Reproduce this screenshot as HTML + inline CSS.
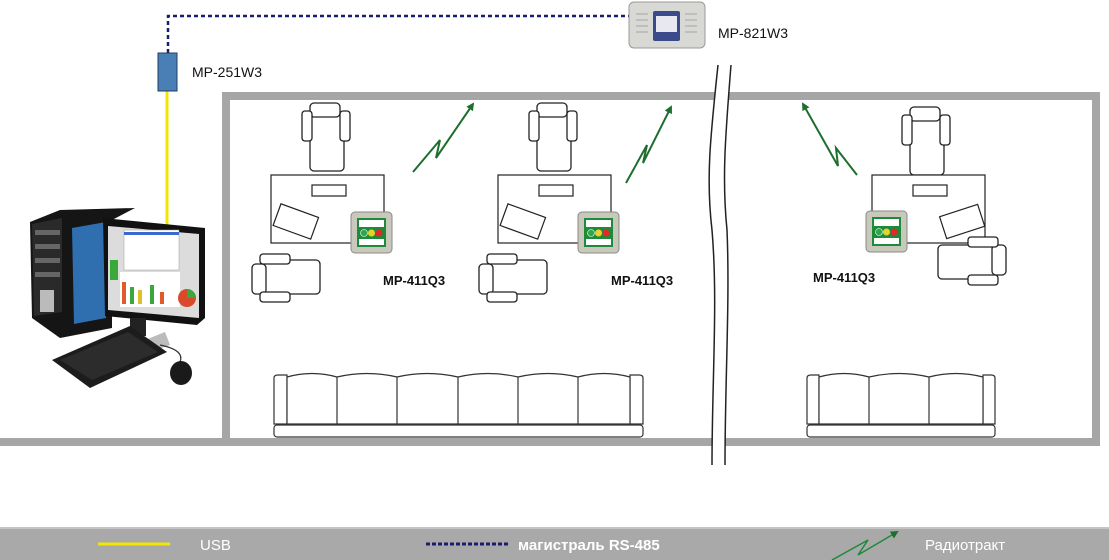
<!DOCTYPE html>
<html><head><meta charset="utf-8"><style>
html,body{margin:0;padding:0;background:#fff;width:1109px;height:560px;overflow:hidden}
svg{display:block}
</style></head><body>
<svg width="1109" height="560" viewBox="0 0 1109 560" xmlns="http://www.w3.org/2000/svg" font-family="Liberation Sans, sans-serif">
<defs>
<g id="chair" fill="#fff" stroke="#222" stroke-width="1.3">
  <path d="M0,0 h30 a4,4 0 0 1 4,4 v50 a4,4 0 0 1 -4,4 h-26 a4,4 0 0 1 -4,-4 z" transform="translate(-2,0)"/>
  <rect x="-2" y="-10" width="30" height="14" rx="4"/>
  <rect x="-10" y="-2" width="10" height="30" rx="3"/>
  <rect x="28" y="-2" width="10" height="30" rx="3"/>
</g>
<g id="panel">
  <rect x="0" y="0" width="41" height="41" rx="4" fill="#c9c8bd" stroke="#8a8a80"/>
  <rect x="6" y="6" width="29" height="29" fill="#1e8a3a"/>
  <rect x="8" y="8" width="25" height="7" fill="#fff"/>
  <rect x="8" y="27" width="25" height="6" fill="#fff"/>
  <circle cx="13" cy="21" r="3.5" fill="#2aa84a" stroke="#fff" stroke-width=".6"/>
  <circle cx="20.5" cy="21" r="3.5" fill="#e6d22a"/>
  <circle cx="28" cy="21" r="3.5" fill="#e02a2a"/>
</g>
<g id="desk" fill="#fff" stroke="#222" stroke-width="1.2">
  <rect x="0" y="0" width="113" height="68"/>
  <rect x="41" y="10" width="34" height="11"/>
</g>
<marker id="ah" markerWidth="8" markerHeight="8" refX="6" refY="4" orient="auto" markerUnits="userSpaceOnUse"><path d="M0,0 L8,4 L0,8 z" fill="#1e6e2e"/></marker>
</defs>

<!-- walls -->
<rect x="222" y="92" width="878" height="8" fill="#a6a6a6"/>
<rect x="222" y="92" width="8" height="354" fill="#a6a6a6"/>
<rect x="1092" y="92" width="8" height="354" fill="#a6a6a6"/>
<rect x="0" y="438" width="1100" height="8" fill="#a6a6a6"/>

<!-- break -->
<path d="M718,65 C710,140 706,180 712,230 C718,300 712,380 712,465 L725,465 C725,380 730,300 727,230 C722,180 725,140 731,65 Z" fill="#fff"/>
<path d="M718,65 C710,140 706,180 712,230 C718,300 712,380 712,465" fill="none" stroke="#222" stroke-width="1.5"/>
<path d="M731,65 C725,140 722,180 727,230 C730,300 725,380 725,465" fill="none" stroke="#222" stroke-width="1.5"/>

<!-- cables -->
<line x1="167" y1="91" x2="167" y2="225" stroke="#f2e600" stroke-width="3"/>
<path d="M168,53 V16 H630" fill="none" stroke="#1c1c6e" stroke-width="2.5" stroke-dasharray="4,3"/>
<rect x="158" y="53" width="19" height="38" fill="#4a7fb5" stroke="#1f3f60"/>
<text x="192" y="77" font-size="14" fill="#111">MP-251W3</text>

<!-- MP-821W3 -->
<rect x="629" y="2" width="76" height="46" rx="5" fill="#d8d8d4" stroke="#9a9a96"/>
<rect x="653" y="11" width="27" height="30" rx="2" fill="#3a4a8a"/>
<rect x="656" y="16" width="21" height="16" fill="#e8e8f0"/>
<g stroke="#999" stroke-width=".8"><line x1="636" y1="14" x2="648" y2="14"/><line x1="636" y1="20" x2="648" y2="20"/><line x1="636" y1="26" x2="648" y2="26"/><line x1="636" y1="32" x2="648" y2="32"/><line x1="685" y1="14" x2="697" y2="14"/><line x1="685" y1="20" x2="697" y2="20"/><line x1="685" y1="26" x2="697" y2="26"/><line x1="685" y1="32" x2="697" y2="32"/></g>
<text x="718" y="38" font-size="14" fill="#111">MP-821W3</text>

<!-- computer -->
<path d="M30,222 L60,210 L135,208 L112,220 L112,328 L60,338 L32,318 Z" fill="#151515"/>
<path d="M32,224 L62,218 L62,312 L34,316 Z" fill="#2a2a2a"/>
<rect x="35" y="230" width="25" height="5" fill="#666"/><rect x="35" y="244" width="25" height="5" fill="#666"/><rect x="35" y="258" width="25" height="5" fill="#666"/><rect x="35" y="272" width="25" height="5" fill="#666"/>
<rect x="40" y="290" width="14" height="22" fill="#bbb"/>
<path d="M72,228 L106,222 L106,318 L74,324 Z" fill="#2f6fb0"/>
<path d="M103,218 L205,228 L205,318 L197,325 L105,316 Z" fill="#111"/>
<path d="M108,226 L199,234 L199,318 L108,310 Z" fill="#dcdcdc"/>
<rect x="124" y="230" width="55" height="40" fill="#fff" stroke="#999" stroke-width=".5"/>
<rect x="124" y="232" width="55" height="3" fill="#3a6ad0"/>
<rect x="120" y="272" width="60" height="35" fill="#fff"/>
<rect x="122" y="282" width="4" height="22" fill="#e05a2a"/><rect x="130" y="287" width="4" height="17" fill="#3aa83a"/><rect x="138" y="290" width="4" height="14" fill="#e0c02a"/><rect x="150" y="285" width="4" height="19" fill="#3aa83a"/><rect x="160" y="292" width="4" height="12" fill="#e05a2a"/>
<rect x="110" y="260" width="8" height="20" fill="#3aa83a"/>
<circle cx="187" cy="298" r="9" fill="#d84a2a"/><path d="M187,298 L187,289 A9,9 0 0 1 196,298 Z" fill="#3aa83a"/>
<rect x="130" y="318" width="16" height="18" fill="#222"/>
<path d="M108,336 L125,328 L140,340 L122,350 Z" fill="#bbb"/>
<path d="M145,340 L165,332 L170,345 L150,352 Z" fill="#bbb"/>
<path d="M52,360 L130,326 L167,352 L90,388 Z" fill="#1c1c1c"/>
<path d="M60,360 L128,332 L158,352 L92,380 Z" fill="#2c2c2c"/>
<path d="M160,345 Q185,350 180,362" fill="none" stroke="#333" stroke-width="1.2"/>
<ellipse cx="181" cy="373" rx="11" ry="12" fill="#1a1a1a"/>

<!-- room 1 -->
<g transform="translate(312,113)"><use href="#chair"/></g>
<g transform="translate(271,175)"><use href="#desk"/></g>
<rect x="276" y="210" width="40" height="23" fill="#fff" stroke="#222" stroke-width="1.2" transform="rotate(20 296 221)"/>
<g transform="translate(262,292) rotate(-90)"><use href="#chair"/></g>
<g transform="translate(351,212)"><use href="#panel"/></g>
<text x="383" y="285" font-size="13" font-weight="bold" fill="#111">MP-411Q3</text>
<path d="M413,172 L440,140 L436,158 L473,104" fill="none" stroke="#1e6e2e" stroke-width="2" marker-end="url(#ah)"/>

<!-- room 2 -->
<g transform="translate(539,113)"><use href="#chair"/></g>
<g transform="translate(498,175)"><use href="#desk"/></g>
<rect x="503" y="210" width="40" height="23" fill="#fff" stroke="#222" stroke-width="1.2" transform="rotate(20 523 221)"/>
<g transform="translate(489,292) rotate(-90)"><use href="#chair"/></g>
<g transform="translate(578,212)"><use href="#panel"/></g>
<text x="611" y="285" font-size="13" font-weight="bold" fill="#111">MP-411Q3</text>
<path d="M626,183 L647,145 L643,163 L671,107" fill="none" stroke="#1e6e2e" stroke-width="2" marker-end="url(#ah)"/>

<!-- room 3 -->
<g transform="translate(912,117)"><use href="#chair"/></g>
<g transform="translate(872,175)"><use href="#desk"/></g>
<rect x="942" y="210" width="40" height="23" fill="#fff" stroke="#222" stroke-width="1.2" transform="rotate(-18 962 221)"/>
<g transform="translate(996,247) rotate(90)"><use href="#chair"/></g>
<g transform="translate(866,211)"><use href="#panel"/></g>
<text x="813" y="282" font-size="13" font-weight="bold" fill="#111">MP-411Q3</text>
<path d="M857,175 L836,148 L838,166 L803,104" fill="none" stroke="#1e6e2e" stroke-width="2" marker-end="url(#ah)"/>

<!-- sofa 1 -->
<g fill="#fff" stroke="#333" stroke-width="1.2">
<rect x="274" y="425" width="369" height="12" rx="3"/>
<path d="M274,424 V378 Q274,375 278,375 H287 V424 Z"/>
<path d="M630,424 V375 H639 Q643,375 643,378 V424 Z"/>
<path d="M287,424 V377 Q312,370 337,377 Q367,370 397,377 Q427,370 458,377 Q488,370 518,377 Q548,370 578,377 Q604,370 630,377 V424 Z"/>
<line x1="337" y1="377" x2="337" y2="424"/><line x1="397" y1="377" x2="397" y2="424"/><line x1="458" y1="377" x2="458" y2="424"/><line x1="518" y1="377" x2="518" y2="424"/><line x1="578" y1="377" x2="578" y2="424"/>
</g>
<!-- sofa 2 -->
<g fill="#fff" stroke="#333" stroke-width="1.2">
<rect x="807" y="425" width="188" height="12" rx="3"/>
<path d="M807,424 V378 Q807,375 811,375 H819 V424 Z"/>
<path d="M983,424 V375 H991 Q995,375 995,378 V424 Z"/>
<path d="M819,424 V377 Q844,370 869,377 Q899,370 929,377 Q956,370 983,377 V424 Z"/>
<line x1="869" y1="377" x2="869" y2="424"/><line x1="929" y1="377" x2="929" y2="424"/>
</g>

<!-- legend -->
<rect x="0" y="527" width="1109" height="33" fill="#a9a9a9"/>
<rect x="0" y="527" width="1109" height="2" fill="#c4c4c4"/>
<line x1="98" y1="544" x2="170" y2="544" stroke="#f2e600" stroke-width="3"/>
<text x="200" y="550" font-size="15" fill="#fff">USB</text>
<line x1="426" y1="544" x2="510" y2="544" stroke="#1c1c6e" stroke-width="3" stroke-dasharray="4,2"/>
<text x="518" y="550" font-size="15" font-weight="bold" fill="#fff">магистраль RS-485</text>
<path d="M832,560 L868,540 L858,555 L897,532" fill="none" stroke="#1e8a3a" stroke-width="1.5" marker-end="url(#ah)"/>
<text x="925" y="550" font-size="15" fill="#fff">Радиотракт</text>
</svg>
</body></html>
